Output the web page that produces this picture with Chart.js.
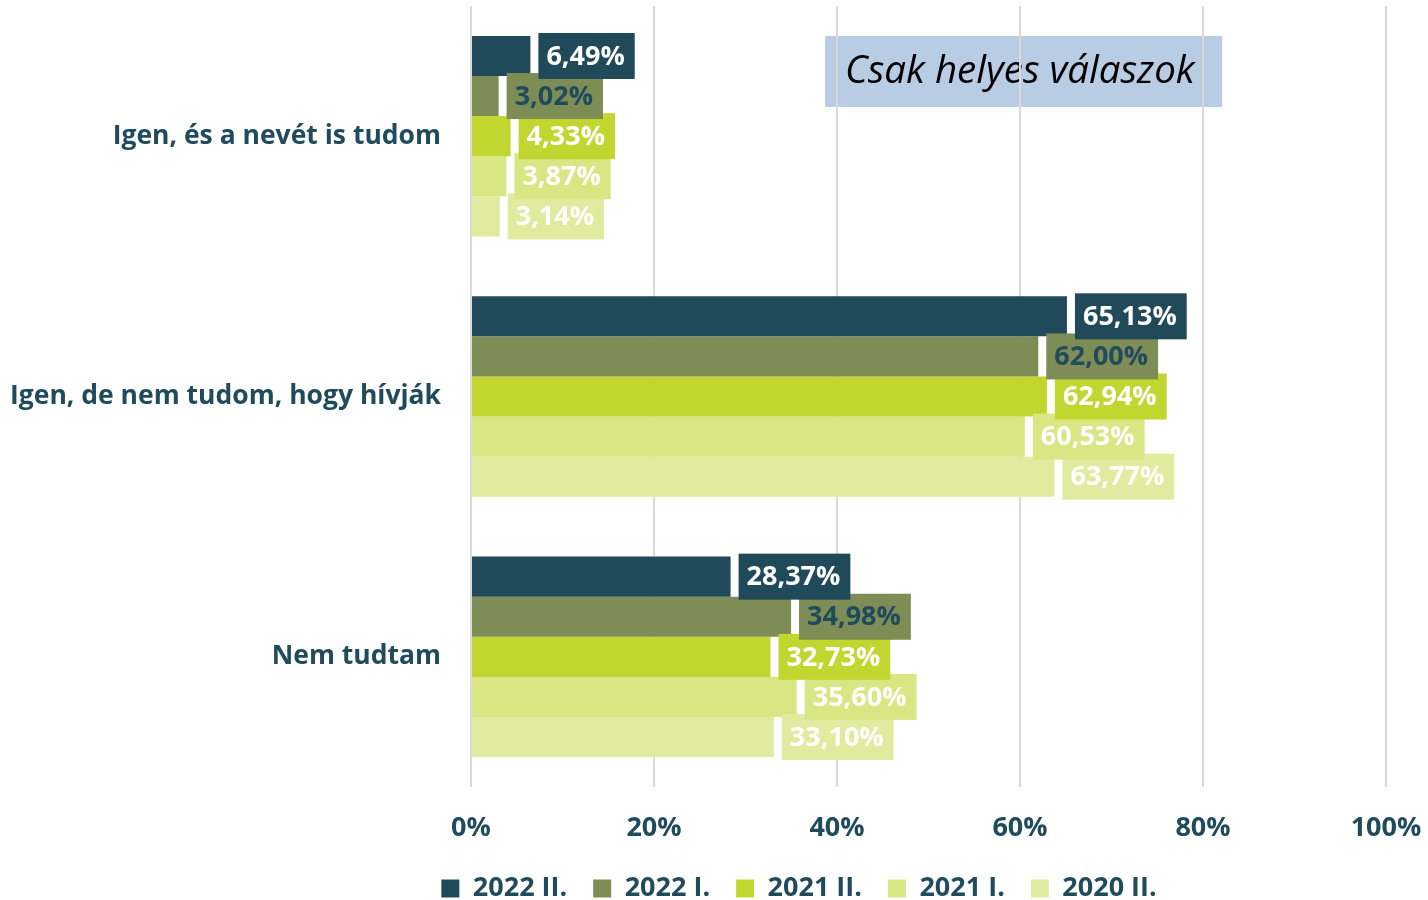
<!DOCTYPE html>
<html>
<head>
<meta charset="utf-8">
<script src="https://cdn.jsdelivr.net/npm/chart.js@4.4.0/dist/chart.umd.min.js"></script>
<style>
  html, body { margin: 0; padding: 0; background: #fff; }
  #doboz { width: 1428px; height: 900px; }
</style>
</head>
<body>
<div id="doboz"><canvas id="grafikon" width="1428" height="900"></canvas></div>
<script>
// adatok
const kategoriak = ['Igen, és a nevét is tudom', 'Igen, de nem tudom, hogy hívják', 'Nem tudtam'];
const idoszakok = ['2022 II.', '2022 I.', '2021 II.', '2021 I.', '2020 II.'];
const ertekek2022II = [6.49, 65.13, 28.37];
const ertekek2022I = [3.02, 62.00, 34.98];
const ertekek2021II = [4.33, 62.94, 32.73];
const ertekek2021I = [3.87, 60.53, 35.60];
const ertekek2020II = [3.14, 63.77, 33.10];
const tengelyTickek = [0, 20, 40, 60, 80, 100];
const megjegyzes = 'Csak helyes válaszok';

const szinek = ['#204a5a', '#7e8c55', '#c1d72f', '#d8e684', '#e1eba0'];
const cimkeSzinek = ['#ffffff', '#1f4b5c', '#ffffff', '#ffffff', '#ffffff'];
const szovegSzin = '#1f4b5c';
const betu = '"Open Sans", "Noto Sans", sans-serif';

const sorozatok = [ertekek2022II, ertekek2022I, ertekek2021II, ertekek2021I, ertekek2020II];

const formaz = v => v.toFixed(2).replace('.', ',') + '%';

// a "Csak helyes válaszok" doboz a rácsvonalak alatt
const megjegyzesPlugin = {
  id: 'megjegyzes',
  beforeDraw(chart) {
    const ctx = chart.ctx;
    const x = chart.scales.x;
    const bal = x.getPixelForValue(38.7);
    const jobb = x.getPixelForValue(82.1);
    ctx.save();
    ctx.fillStyle = '#b8cce4';
    ctx.fillRect(bal, 36, jobb - bal, 71);
    ctx.fillStyle = '#000';
    ctx.font = 'italic 38.5px ' + betu;
    ctx.textBaseline = 'middle';
    ctx.fillText(megjegyzes, bal + 20, 72);
    ctx.restore();
  }
};

// értékcímkék színes háttérrel, a korábbi sorozat kerül felülre
const cimkePlugin = {
  id: 'ertekCimkek',
  afterDatasetsDraw(chart) {
    const ctx = chart.ctx;
    ctx.save();
    ctx.font = 'bold 27px ' + betu;
    ctx.textBaseline = 'middle';
    for (let i = chart.data.datasets.length - 1; i >= 0; i--) {
      const meta = chart.getDatasetMeta(i);
      meta.data.forEach((bar, j) => {
        const szoveg = formaz(chart.data.datasets[i].data[j]);
        const w = ctx.measureText(szoveg).width + 18;
        const x0 = bar.x + 8;
        ctx.fillStyle = szinek[i];
        ctx.fillRect(x0, bar.y - 23, w, 46);
        ctx.fillStyle = cimkeSzinek[i];
        ctx.fillText(szoveg, x0 + 8, bar.y + 1);
      });
    }
    ctx.restore();
  }
};

// a jelmagyarázat kicsit jobbra tolva, mint az eredetin
const jelmagyarazatEltolas = {
  id: 'jelmagyarazatEltolas',
  afterLayout(chart) {
    chart.legend.left += 212;
  }
};

const ctx = document.getElementById('grafikon').getContext('2d');
const grafikon = new Chart(ctx, {
  type: 'bar',
  data: {
    labels: kategoriak,
    datasets: sorozatok.map((adat, i) => ({
      label: idoszakok[i],
      data: adat,
      backgroundColor: szinek[i],
      borderWidth: 0,
      categoryPercentage: 0.77,
      barPercentage: 1.0,
    })),
  },
  options: {
    indexAxis: 'y',
    responsive: false,
    animation: false,
    devicePixelRatio: 1,
    layout: { padding: { top: 6, right: 42, left: 0, bottom: -12 } },
    scales: {
      x: {
        min: 0,
        max: 100,
        afterBuildTicks(scale) {
          scale.ticks = tengelyTickek.map(v => ({ value: v }));
        },
        afterFit(scale) {
          scale.height = 62;
          scale.paddingLeft = 0;
          scale.paddingRight = 0;
        },
        grid: { color: '#d9d9d9', lineWidth: 2, drawTicks: false },
        border: { display: false },
        ticks: {
          padding: 25,
          color: szovegSzin,
          font: { family: betu, size: 27, weight: 'bold' },
          callback: v => v + '%',
        },
      },
      y: {
        grid: { display: false },
        border: { display: false },
        afterFit(scale) {
          scale.width = 471;
          scale.paddingTop = 0;
          scale.paddingBottom = 0;
        },
        ticks: {
          padding: 22,
          color: szovegSzin,
          font: { family: betu, size: 26.5, weight: 'bold' },
        },
      },
    },
    plugins: {
      legend: {
        position: 'bottom',
        labels: {
          boxWidth: 18,
          boxHeight: 18,
          padding: 26,
          color: szovegSzin,
          font: { family: betu, size: 27, weight: 'bold' },
        },
      },
      tooltip: { enabled: false },
    },
  },
  plugins: [megjegyzesPlugin, cimkePlugin, jelmagyarazatEltolas],
});
</script>
</body>
</html>
